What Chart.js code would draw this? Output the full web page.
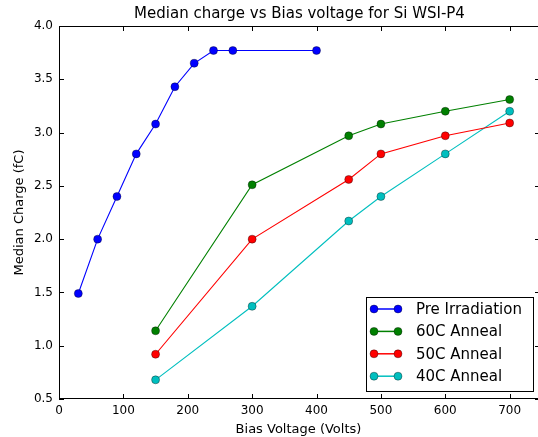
<!DOCTYPE html>
<html>
<head>
<meta charset="utf-8">
<script src="https://cdn.jsdelivr.net/npm/chart.js@4"></script>
<style>
  html, body { margin: 0; padding: 0; background: #fff; overflow: hidden; }
  canvas { display: block; }
</style>
</head>
<body>
<canvas id="chargeChart" width="538" height="437"></canvas>
<script>
// data
const preVolts = [30, 60, 90, 120, 150, 180, 210, 240, 270, 400];
const preCharge = [1.49, 2.0, 2.4, 2.8, 3.08, 3.43, 3.65, 3.77, 3.77, 3.77];

const annealVolts = [150, 300, 450, 500, 600, 700];
const anneal60 = [1.14, 2.51, 2.97, 3.08, 3.2, 3.31];
const anneal50 = [0.92, 2.0, 2.56, 2.8, 2.97, 3.09];
const anneal40 = [0.68, 1.37, 2.17, 2.4, 2.8, 3.2];

const seriesNames = ['Pre Irradiation', '60C Anneal', '50C Anneal', '40C Anneal'];
const seriesColors = ['#0000ff', '#008000', '#ff0000', '#00bfbf'];

const xTicks = [0, 100, 200, 300, 400, 500, 600, 700];
const yTicks = [0.5, 1.0, 1.5, 2.0, 2.5, 3.0, 3.5, 4.0];

const chartTitle = 'Median charge vs Bias voltage for Si WSI-P4';
const FONT = 'DejaVu Sans, sans-serif';

function toPoints(xs, ys) {
  return xs.map((x, i) => ({ x: x, y: ys[i] }));
}

function makeSet(idx, xs, ys) {
  return {
    label: seriesNames[idx],
    data: toPoints(xs, ys),
    borderColor: seriesColors[idx],
    backgroundColor: seriesColors[idx],
    borderWidth: 1.1,
    pointRadius: 4,
    pointBorderColor: 'rgba(0,0,0,0.6)',
    pointBackgroundColor: seriesColors[idx],
    pointBorderWidth: 0.6,
    tension: 0
  };
}

// left/top/bottom spines + inward ticks; the original is cropped just
// before its right spine, so only the tips of the right ticks show
const frameTicks = {
  id: 'frameTicks',
  afterDraw(chart) {
    const { ctx, chartArea: a, scales } = chart;
    const len = 5;
    const rightSpine = a.right + 2;
    ctx.save();
    ctx.strokeStyle = '#000';
    ctx.lineWidth = 1;
    ctx.beginPath();
    ctx.moveTo(a.right, a.top + 0.5); ctx.lineTo(a.left + 0.5, a.top + 0.5);
    ctx.lineTo(a.left + 0.5, a.bottom - 0.5); ctx.lineTo(a.right, a.bottom - 0.5);
    xTicks.forEach(v => {
      const px = Math.round(scales.x.getPixelForValue(v)) + 0.5;
      ctx.moveTo(px, a.bottom); ctx.lineTo(px, a.bottom - len);
      ctx.moveTo(px, a.top); ctx.lineTo(px, a.top + len);
    });
    yTicks.forEach(v => {
      const py = Math.round(scales.y.getPixelForValue(v)) + 0.5;
      ctx.moveTo(a.left, py); ctx.lineTo(a.left + len, py);
      ctx.moveTo(rightSpine, py); ctx.lineTo(rightSpine - len, py);
    });
    ctx.stroke();

    // title centred over the plot area
    ctx.fillStyle = '#000';
    ctx.font = '15px ' + FONT;
    ctx.textAlign = 'center';
    ctx.textBaseline = 'middle';
    ctx.fillText(chartTitle, (a.left + rightSpine) / 2, 14);
    ctx.restore();
  }
};

// legend box sitting inside the lower right of the plot
const boxLegend = {
  id: 'boxLegend',
  afterDraw(chart) {
    const { ctx, chartArea: a } = chart;
    const w = 167, h = 94;
    const left = a.right - 172, top = a.bottom - 102;
    ctx.save();
    ctx.fillStyle = '#fff';
    ctx.fillRect(left, top, w, h);
    ctx.strokeStyle = '#000';
    ctx.lineWidth = 1;
    ctx.strokeRect(left + 0.5, top + 0.5, w, h);
    ctx.font = '15px ' + FONT;
    ctx.textBaseline = 'middle';
    chart.data.datasets.forEach((ds, i) => {
      const y = top + 12 + i * 22.4;
      const x0 = left + 8, x1 = left + 32;
      ctx.strokeStyle = ds.borderColor;
      ctx.lineWidth = 1.5;
      ctx.beginPath();
      ctx.moveTo(x0, y); ctx.lineTo(x1, y);
      ctx.stroke();
      [x0, x1].forEach(px => {
        ctx.beginPath();
        ctx.arc(px, y, 4, 0, Math.PI * 2);
        ctx.fillStyle = ds.pointBackgroundColor;
        ctx.fill();
        ctx.lineWidth = 0.6;
        ctx.strokeStyle = 'rgba(0,0,0,0.6)';
        ctx.stroke();
      });
      ctx.fillStyle = '#000';
      ctx.fillText(ds.label, left + 50, y + 1);
    });
    ctx.restore();
  }
};

const ctx = document.getElementById('chargeChart').getContext('2d');

new Chart(ctx, {
  type: 'line',
  data: {
    datasets: [
      makeSet(0, preVolts, preCharge),
      makeSet(1, annealVolts, anneal60),
      makeSet(2, annealVolts, anneal50),
      makeSet(3, annealVolts, anneal40)
    ]
  },
  options: {
    responsive: false,
    animation: false,
    layout: {
      autoPadding: false,
      padding: { left: 0, right: 0, top: 26, bottom: 0 }
    },
    scales: {
      x: {
        type: 'linear',
        min: 0,
        max: 744,
        afterFit(scale) {
          scale.height = 38;
          scale.paddingLeft = 0;
          scale.paddingRight = 0;
        },
        afterBuildTicks(scale) { scale.ticks = xTicks.map(v => ({ value: v })); },
        grid: { display: false, drawTicks: false },
        border: { display: false },
        ticks: {
          color: '#000',
          padding: 5,
          maxRotation: 0,
          font: { family: FONT, size: 12 }
        },
        title: {
          display: true,
          text: 'Bias Voltage (Volts)',
          color: '#000',
          padding: { top: 0, bottom: 0 },
          font: { family: FONT, size: 13 }
        }
      },
      y: {
        type: 'linear',
        min: 0.5,
        max: 4.0,
        afterFit(scale) {
          scale.width = 59;
          scale.paddingTop = 0;
          scale.paddingBottom = 0;
        },
        afterBuildTicks(scale) { scale.ticks = yTicks.map(v => ({ value: v })); },
        grid: { display: false, drawTicks: false },
        border: { display: false },
        ticks: {
          color: '#000',
          padding: 6,
          font: { family: FONT, size: 12 },
          callback: v => v.toFixed(1)
        },
        title: {
          display: true,
          text: 'Median Charge (fC)',
          color: '#000',
          padding: { top: 12, bottom: 0 },
          font: { family: FONT, size: 13 }
        }
      }
    },
    plugins: {
      legend: { display: false },
      tooltip: { enabled: false },
      title: { display: false }
    }
  },
  plugins: [frameTicks, boxLegend]
});
</script>
</body>
</html>
